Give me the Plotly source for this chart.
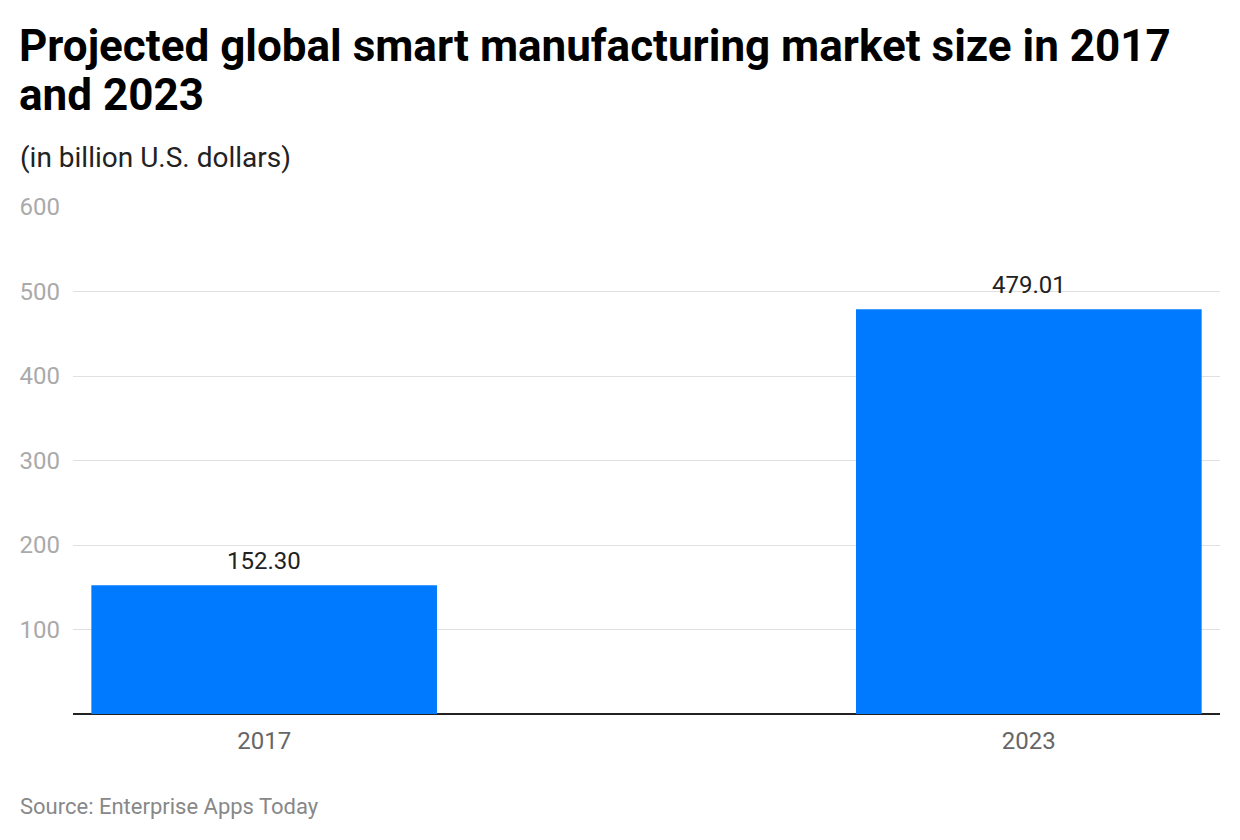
import plotly.graph_objects as go

categories = ["2017", "2023"]
values = [152.30, 479.01]
value_labels = ["152.30", "479.01"]
y_ticks = [100, 200, 300, 400, 500, 600]

title_line1 = "Projected global smart manufacturing market size in 2017"
title_line2 = "and 2023"
subtitle_text = "(in billion U.S. dollars)"
source_text = "Source: Enterprise Apps Today"

OFF = 8  # page body margin
W, H = 1240 - OFF, 840 - OFF
L, R, T, B = 73 - OFF, 20, 207 - OFF, 126
pw = W - L - R
ph = H - T - B

def px_x(p):
    return (p - OFF - L) / pw

def px_y(p):
    return (H - B - (p - OFF)) / ph

fig = go.Figure()
fig.add_trace(go.Bar(
    x=[0, 1], y=values, width=0.452,
    marker=dict(color="#007AFF", line=dict(width=0)),
    hoverinfo="skip",
))

annotations = []
for i, (v, lab) in enumerate(zip(values, value_labels)):
    annotations.append(dict(
        x=i, y=v, xref="x", yref="y", text=lab, showarrow=False,
        yanchor="bottom", yshift=8,
        font=dict(family="Roboto", size=24, color="#222222"),
    ))

def txt(text, xp, yp, size, color, bold=False):
    return dict(x=px_x(xp), y=px_y(yp), xref="paper", yref="paper",
                xanchor="left", yanchor="middle",
                text=("<b>%s</b>" % text) if bold else text,
                showarrow=False, align="left",
                font=dict(family="Roboto", size=size, color=color))

annotations += [
    txt(title_line1, 17, 46, 44, "#000000", bold=True),
    txt(title_line2, 17, 95, 44, "#000000", bold=True),
    txt(subtitle_text, 18, 158, 28, "#222222"),
    txt(source_text, 18, 806, 22, "#888888"),
]

fig.update_layout(
    width=W, height=H,
    margin=dict(l=L, r=R, t=T, b=B, pad=0),
    paper_bgcolor="white", plot_bgcolor="white",
    showlegend=False,
    annotations=annotations,
    xaxis=dict(
        range=[-0.25, 1.25], tickmode="array", tickvals=[0, 1], ticktext=categories,
        showgrid=False, zeroline=False, showline=False, ticks="",
        ticklabelstandoff=10,
        tickfont=dict(family="Roboto", size=24, color="#666666"),
        fixedrange=True,
    ),
    yaxis=dict(
        range=[0, 600], tickmode="array", tickvals=y_ticks,
        showgrid=True, gridcolor="#e0e0e0", gridwidth=1,
        zeroline=True, zerolinecolor="#222222", zerolinewidth=2,
        showline=False, ticks="", ticklabelstandoff=12,
        tickfont=dict(family="Roboto", size=24, color="#aaaaaa"),
        fixedrange=True,
    ),
)

fig.write_html("out.html")
